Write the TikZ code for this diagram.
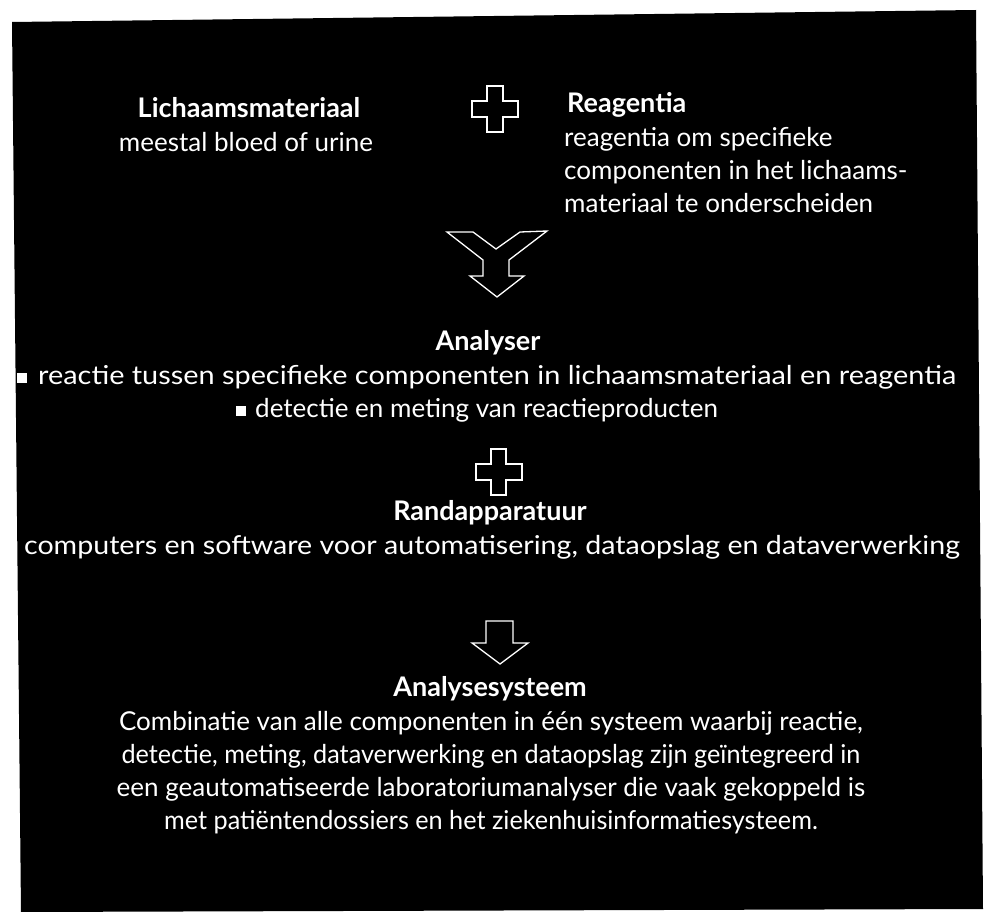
\documentclass[tikz,border=0pt]{standalone}
\usepackage{graphicx}
\usepackage{fontspec}
\setmainfont{Lato}
\begin{document}
\begin{tikzpicture}[x=1pt,y=-1pt,
  txt/.style={text=white,inner sep=0pt,font=\fontsize{26}{33}\selectfont},
  head/.style={text=white,inner sep=0pt,font=\fontsize{27}{33}\selectfont\bfseries},
  bullet/.style={fill=white,inner sep=0pt,minimum size=10pt,anchor=south west},
  sym/.style={draw=white,line width=1.3pt,line join=miter}]
\useasboundingbox (0,0) rectangle (986,912);
\fill[black] (12,22) -- (976,10) -- (983,909) -- (21,912) -- cycle;
% top row
\node[head,anchor=base] (lich) at (249,118) {Lichaamsmateriaal};
\node[txt,anchor=base] (lich1) at (246,152) {meestal bloed of urine};
\draw[sym] (487,86) -- (503,86) -- (503,101) -- (518,101) -- (518,117) -- (503,117) -- (503,132) -- (487,132) -- (487,117) -- (472,117) -- (472,101) -- (487,101) -- cycle;
\node[head,anchor=base west] (reag) at (567,113) {Reagentia};
\node[txt,anchor=base west] (reag1) at (564,147) {reagentia om specifieke};
\node[txt,anchor=base west] (reag2) at (564,180) {componenten in het lichaams-};
\node[txt,anchor=base west] (reag3) at (564,213) {materiaal te onderscheiden};
% Y arrow
\draw[sym] (447,232) -- (473,232) -- (496,249) -- (520,232) -- (547,231) -- (509,260) -- (509,276) -- (524,276) -- (497,297) -- (470,276) -- (483,276) -- (483,260) -- cycle;
% Analyser
\node[head,anchor=base] (anal) at (488,350) {Analyser};
\node[bullet] (b1) at (17,383) {};
\node[txt,anchor=base west] (anal1) at (38,384) {\scalebox{1.11}[1]{reactie tussen specifieke componenten in lichaamsmateriaal en reagentia}};
\node[bullet] (b2) at (236,416) {};
\node[txt,anchor=base west] (anal2) at (255,417) {detectie en meting van reactieproducten};
% plus 2
\draw[sym] (491,449) -- (506,449) -- (506,464) -- (522,464) -- (522,480) -- (506,480) -- (506,495) -- (491,495) -- (491,480) -- (476,480) -- (476,464) -- (491,464) -- cycle;
% Randapparatuur
\node[head,anchor=base] (rand) at (490,520) {Randapparatuur};
\node[txt,anchor=base] (rand1) at (492,554) {\scalebox{1.1}[1]{computers en software voor automatisering, dataopslag en dataverwerking}};
% down arrow
\draw[sym] (486,621) -- (513,621) -- (513,643) -- (528,643) -- (500,664) -- (472,643) -- (486,643) -- cycle;
% Analysesysteem
\node[head,anchor=base] (sys) at (490,696) {Analysesysteem};
\node[txt,anchor=base] (sys1) at (491,730) {Combinatie van alle componenten in één systeem waarbij reactie,};
\node[txt,anchor=base] (sys2) at (491,763) {\scalebox{0.97}[1]{detectie, meting, dataverwerking en dataopslag zijn geïntegreerd in}};
\node[txt,anchor=base] (sys3) at (491,796) {een geautomatiseerde laboratoriumanalyser die vaak gekoppeld is};
\node[txt,anchor=base] (sys4) at (491,829) {\scalebox{0.97}[1]{met patiëntendossiers en het ziekenhuisinformatiesysteem.}};
\end{tikzpicture}
\end{document}
